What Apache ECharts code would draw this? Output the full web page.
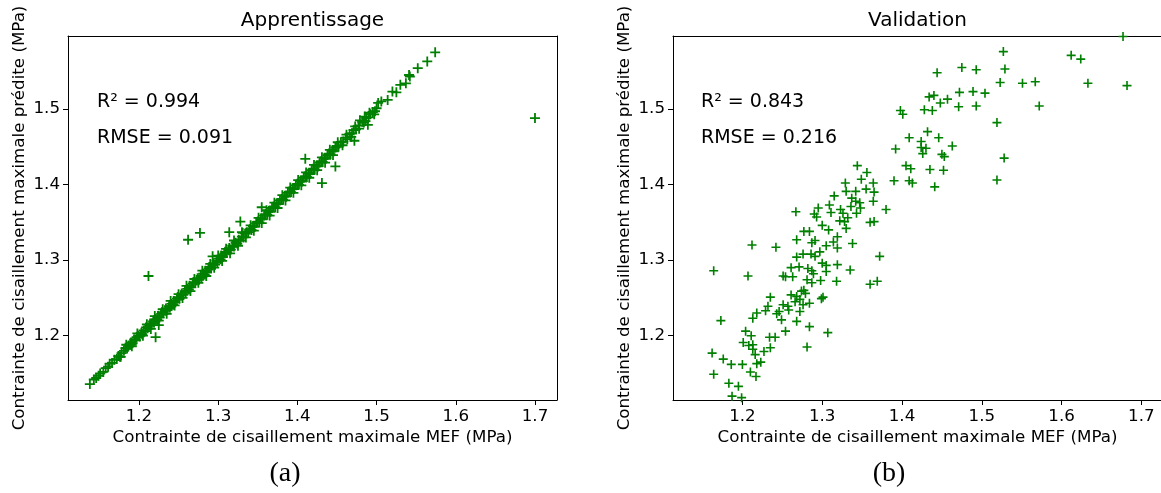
<!DOCTYPE html>
<html>
<head>
<meta charset="utf-8">
<script src="https://cdn.jsdelivr.net/npm/echarts@6.0.0/dist/echarts.min.js"></script>
<style>
  html, body { margin: 0; padding: 0; background: #fff; }
  #chart { width: 1161px; height: 493px; }
</style>
</head>
<body>
<div id="chart"></div>
<script>
// ---------------- DATA ----------------
const xTicks = [1.2, 1.3, 1.4, 1.5, 1.6, 1.7];
const yTicks = [1.2, 1.3, 1.4, 1.5];

const titles = ['Apprentissage', 'Validation'];
const captions = ['(a)', '(b)'];
const xAxisName = 'Contrainte de cisaillement maximale MEF (MPa)';
const yAxisName = 'Contrainte de cisaillement maximale prédite (MPa)';
const trainStats = ['R² = 0.994', 'RMSE = 0.091'];
const valStats = ['R² = 0.843', 'RMSE = 0.216'];

// Apprentissage: [MEF, predicted]
const trainPoints = [
  [1.138,1.136],[1.143,1.142],[1.146,1.144],[1.149,1.147],[1.151,1.150],[1.155,1.152],[1.158,1.157],[1.161,1.159],
  [1.163,1.163],[1.166,1.164],[1.169,1.168],[1.172,1.169],[1.174,1.173],[1.176,1.172],[1.178,1.177],[1.181,1.180],
  [1.183,1.184],[1.185,1.183],[1.187,1.187],[1.189,1.188],[1.190,1.191],[1.192,1.190],[1.194,1.195],[1.196,1.194],
  [1.197,1.198],[1.199,1.200],[1.201,1.199],[1.203,1.204],[1.204,1.202],[1.206,1.207],[1.208,1.206],[1.209,1.211],
  [1.211,1.210],[1.213,1.213],[1.214,1.216],[1.216,1.214],[1.218,1.219],[1.219,1.217],[1.221,1.222],[1.223,1.221],
  [1.224,1.226],[1.226,1.224],[1.228,1.229],[1.229,1.231],[1.231,1.230],[1.233,1.233],[1.234,1.236],[1.236,1.234],
  [1.238,1.239],[1.239,1.237],[1.241,1.242],[1.243,1.241],[1.244,1.246],[1.246,1.244],[1.248,1.249],[1.249,1.251],
  [1.251,1.249],[1.253,1.253],[1.254,1.256],[1.256,1.254],[1.258,1.259],[1.259,1.257],[1.261,1.262],[1.263,1.261],
  [1.264,1.266],[1.266,1.264],[1.268,1.269],[1.269,1.271],[1.271,1.270],[1.273,1.273],[1.274,1.276],[1.276,1.274],
  [1.278,1.279],[1.279,1.277],[1.281,1.282],[1.283,1.281],[1.284,1.286],[1.286,1.284],[1.288,1.289],[1.289,1.291],
  [1.291,1.289],[1.293,1.293],[1.294,1.296],[1.296,1.294],[1.298,1.299],[1.299,1.297],[1.301,1.302],[1.303,1.301],
  [1.304,1.306],[1.306,1.304],[1.308,1.309],[1.309,1.311],[1.311,1.310],[1.313,1.313],[1.314,1.316],[1.316,1.314],
  [1.318,1.319],[1.320,1.318],[1.322,1.323],[1.324,1.322],[1.326,1.327],[1.328,1.326],[1.330,1.331],[1.332,1.330],
  [1.334,1.335],[1.336,1.337],[1.338,1.337],[1.340,1.341],[1.342,1.340],[1.344,1.345],[1.346,1.344],[1.348,1.349],
  [1.350,1.351],[1.352,1.350],[1.354,1.355],[1.356,1.354],[1.358,1.359],[1.360,1.361],[1.362,1.360],[1.364,1.365],
  [1.366,1.364],[1.368,1.369],[1.370,1.371],[1.372,1.370],[1.374,1.375],[1.376,1.374],[1.378,1.379],[1.380,1.381],
  [1.382,1.380],[1.384,1.385],[1.386,1.384],[1.388,1.389],[1.390,1.391],[1.392,1.390],[1.394,1.395],[1.396,1.394],
  [1.398,1.399],[1.400,1.401],[1.402,1.400],[1.404,1.405],[1.406,1.404],[1.408,1.409],[1.410,1.411],[1.412,1.410],
  [1.414,1.415],[1.416,1.414],[1.418,1.419],[1.420,1.421],[1.422,1.420],[1.424,1.425],[1.426,1.424],[1.428,1.429],
  [1.430,1.431],[1.432,1.430],[1.434,1.435],[1.436,1.434],[1.438,1.439],[1.440,1.441],[1.442,1.440],[1.444,1.445],
  [1.446,1.444],[1.448,1.449],[1.450,1.451],[1.452,1.450],[1.455,1.456],[1.458,1.457],[1.461,1.462],[1.463,1.460],
  [1.466,1.467],[1.469,1.468],[1.471,1.472],[1.474,1.473],[1.477,1.478],[1.479,1.485],[1.485,1.490],[1.482,1.483],
  [1.484,1.482],[1.487,1.488],[1.490,1.489],[1.492,1.493],[1.495,1.496],[1.498,1.497],[1.500,1.501],[1.502,1.508],
  [1.506,1.510],[1.514,1.512],[1.520,1.523],[1.525,1.522],[1.530,1.532],[1.537,1.534],[1.541,1.545],[1.542,1.543],
  [1.552,1.554],[1.564,1.563],[1.574,1.575],
  // band spread (points slightly off the diagonal)
  [1.177,1.172],[1.184,1.188],[1.191,1.186],[1.198,1.203],[1.205,1.200],[1.210,1.215],[1.215,1.209],[1.220,1.226],
  [1.225,1.220],[1.230,1.235],[1.235,1.229],[1.240,1.246],[1.245,1.240],[1.250,1.255],[1.255,1.250],[1.260,1.266],
  [1.265,1.259],[1.270,1.275],[1.275,1.270],[1.280,1.286],[1.285,1.279],[1.290,1.295],[1.295,1.290],[1.300,1.306],
  [1.305,1.299],[1.310,1.315],[1.315,1.309],[1.320,1.326],[1.325,1.319],[1.331,1.336],[1.335,1.330],[1.341,1.346],
  [1.345,1.339],[1.351,1.356],[1.355,1.349],[1.361,1.366],[1.365,1.359],[1.371,1.376],[1.375,1.369],[1.381,1.386],
  [1.385,1.379],[1.391,1.396],[1.395,1.389],[1.401,1.406],[1.405,1.399],[1.411,1.416],[1.415,1.409],[1.421,1.426],
  [1.425,1.419],[1.431,1.436],[1.435,1.429],[1.441,1.446],[1.445,1.439],[1.451,1.456],[1.457,1.452],[1.462,1.466],
  [1.468,1.463],[1.473,1.477],[1.478,1.474],[1.486,1.484],[1.491,1.495],[1.497,1.493],
  // outliers
  [1.700,1.488],[1.212,1.279],[1.262,1.327],[1.277,1.336],[1.314,1.337],[1.328,1.351],[1.330,1.337],
  [1.221,1.198],[1.225,1.214],[1.293,1.305],[1.410,1.434],[1.431,1.402],[1.448,1.424],[1.472,1.458],
  [1.489,1.479],[1.355,1.370]
];

// Validation: [MEF, predicted]
const valPoints = [
  [1.646,1.601],[1.677,1.596],[1.527,1.576],[1.612,1.571],[1.624,1.566],[1.475,1.555],[1.493,1.552],[1.444,1.548],
  [1.529,1.553],[1.523,1.535],[1.551,1.534],[1.567,1.536],[1.633,1.534],[1.682,1.531],[1.472,1.522],[1.489,1.523],
  [1.504,1.521],[1.440,1.518],[1.434,1.516],[1.457,1.513],[1.448,1.508],[1.428,1.499],[1.438,1.498],[1.471,1.503],
  [1.493,1.504],[1.572,1.504],[1.398,1.498],[1.401,1.493],[1.519,1.482],[1.432,1.470],[1.409,1.462],[1.446,1.462],
  [1.392,1.447],[1.424,1.457],[1.424,1.449],[1.430,1.448],[1.426,1.441],[1.463,1.451],[1.450,1.440],[1.453,1.437],
  [1.528,1.435],[1.405,1.425],[1.411,1.421],[1.435,1.420],[1.452,1.419],[1.409,1.405],[1.413,1.402],[1.441,1.397],
  [1.519,1.406],[1.212,1.320],[1.242,1.317],[1.335,1.287],[1.360,1.268],[1.369,1.272],[1.164,1.286],[1.173,1.220],
  [1.344,1.425],[1.356,1.416],[1.329,1.402],[1.349,1.407],[1.364,1.402],[1.390,1.405],[1.315,1.385],[1.330,1.391],
  [1.342,1.391],[1.355,1.394],[1.365,1.390],[1.337,1.382],[1.342,1.378],[1.347,1.376],[1.364,1.378],[1.309,1.373],
  [1.295,1.369],[1.323,1.367],[1.336,1.371],[1.348,1.369],[1.380,1.367],[1.267,1.364],[1.290,1.361],[1.311,1.363],
  [1.326,1.362],[1.343,1.362],[1.293,1.357],[1.332,1.356],[1.322,1.352],[1.328,1.351],[1.360,1.350],[1.365,1.351],
  [1.300,1.346],[1.308,1.340],[1.330,1.342],[1.277,1.338],[1.284,1.338],[1.319,1.331],[1.268,1.327],[1.291,1.326],
  [1.287,1.323],[1.314,1.324],[1.338,1.322],[1.305,1.319],[1.319,1.316],[1.372,1.305],
  [1.268,1.304],[1.276,1.308],[1.286,1.308],[1.291,1.305],[1.297,1.311],[1.300,1.296],[1.305,1.293],[1.319,1.294],
  [1.305,1.285],[1.261,1.290],[1.271,1.291],[1.282,1.289],[1.287,1.286],[1.289,1.282],[1.287,1.270],[1.298,1.273],
  [1.318,1.272],[1.281,1.274],[1.251,1.279],[1.254,1.278],[1.263,1.278],[1.207,1.279],[1.235,1.251],[1.261,1.254],
  [1.268,1.252],[1.274,1.259],[1.277,1.260],[1.279,1.256],[1.272,1.248],[1.266,1.245],[1.301,1.251],[1.299,1.249],
  [1.284,1.243],[1.251,1.241],[1.257,1.239],[1.276,1.241],[1.232,1.239],[1.229,1.233],[1.246,1.232],[1.258,1.234],
  [1.272,1.232],[1.218,1.230],[1.213,1.223],[1.243,1.229],[1.249,1.221],[1.268,1.219],[1.284,1.212],[1.307,1.204],
  [1.281,1.185],
  [1.204,1.206],[1.211,1.200],[1.201,1.191],[1.208,1.187],[1.213,1.188],[1.213,1.182],[1.216,1.175],[1.234,1.198],
  [1.241,1.198],[1.254,1.206],[1.235,1.184],[1.227,1.179],[1.162,1.177],[1.176,1.169],[1.186,1.162],[1.200,1.162],
  [1.218,1.163],[1.223,1.165],[1.210,1.152],[1.217,1.146],[1.164,1.149],[1.183,1.137],[1.195,1.133],[1.187,1.120],
  [1.199,1.118]
];

// ---------------- CHART ----------------
const FONT = 'DejaVu Sans';
const GREEN = '#008000';
const plusPath = 'path://M8.2,0H11.8V8.2H20V11.8H11.8V20H8.2V11.8H0V8.2H8.2Z';

const grids = [
  { left: 68, top: 36, width: 489, height: 364 },
  { left: 673, top: 36, width: 492, height: 364 }
];
const xRanges = [[1.1104, 1.7278], [1.113, 1.7296]];
const yRange = [1.1149, 1.5966];

function fmt(v) { return Number(v).toFixed(1); }
const spine = { show: true, onZero: false, lineStyle: { color: '#000', width: 1 } };

const xAxes = grids.map((g, i) => ({
  gridIndex: i, type: 'value', position: 'bottom', min: xRanges[i][0], max: xRanges[i][1],
  axisLine: spine, splitLine: { show: false },
  axisTick: { show: true, length: 5, customValues: xTicks, lineStyle: { color: '#000', width: 1 } },
  axisLabel: { customValues: xTicks, formatter: fmt, fontFamily: FONT, fontSize: 16.7, color: '#000', margin: 8 }
}));
// top spines
grids.forEach((g, i) => xAxes.push({
  gridIndex: i, type: 'value', position: 'top', min: xRanges[i][0], max: xRanges[i][1],
  axisLine: spine, splitLine: { show: false }, axisTick: { show: false }, axisLabel: { show: false }
}));
const yAxes = grids.map((g, i) => ({
  gridIndex: i, type: 'value', position: 'left', min: yRange[0], max: yRange[1],
  axisLine: spine, splitLine: { show: false },
  axisTick: { show: true, length: 5, customValues: yTicks, lineStyle: { color: '#000', width: 1 } },
  axisLabel: { customValues: yTicks, formatter: fmt, fontFamily: FONT, fontSize: 16.7, color: '#000', margin: 8 }
}));
// right spine of the first panel only (the second panel's right spine lies outside the picture)
yAxes.push({
  gridIndex: 0, type: 'value', position: 'right', min: yRange[0], max: yRange[1],
  axisLine: spine, splitLine: { show: false }, axisTick: { show: false }, axisLabel: { show: false }
});

function txt(text, x, y, size, opts) {
  opts = opts || {};
  return {
    type: 'text', x: x, y: y, rotation: opts.rotation || 0, silent: true,
    style: {
      text: text, fill: '#000',
      font: (opts.font || (size + 'px "' + FONT + '"')),
      textAlign: opts.align || 'center', textVerticalAlign: 'middle'
    }
  };
}

const graphics = [];
grids.forEach((g, i) => {
  const cx = g.left + 489 / 2;
  graphics.push(txt(titles[i], cx, 21, 20));
  graphics.push(txt(xAxisName, cx, 438, 16.7));
  graphics.push(txt(yAxisName, g.left - 48, g.top + g.height / 2, 16.7, { rotation: Math.PI / 2 }));
});
graphics.push(txt(trainStats[0], 97, 102, 19, { align: 'left' }));
graphics.push(txt(trainStats[1], 97, 138, 19, { align: 'left' }));
graphics.push(txt(valStats[0], 701, 102, 19, { align: 'left' }));
graphics.push(txt(valStats[1], 701, 138, 19, { align: 'left' }));
graphics.push(txt(captions[0], 285, 474, 28, { font: '28px "Liberation Serif"' }));
graphics.push(txt(captions[1], 889, 474, 28, { font: '28px "Liberation Serif"' }));

const chart = echarts.init(document.getElementById('chart'), null, { renderer: 'canvas' });
chart.setOption({
  animation: false,
  backgroundColor: '#fff',
  grid: grids.map(g => Object.assign({ show: false, outerBoundsMode: 'none', containLabel: false }, g)),
  xAxis: xAxes,
  yAxis: yAxes,
  graphic: { elements: graphics },
  series: [
    { type: 'scatter', xAxisIndex: 0, yAxisIndex: 0, data: trainPoints, symbol: plusPath, symbolSize: 10,
      itemStyle: { color: GREEN, opacity: 1 }, silent: true, clip: true },
    { type: 'scatter', xAxisIndex: 1, yAxisIndex: 1, data: valPoints, symbol: plusPath, symbolSize: 9,
      itemStyle: { color: GREEN, opacity: 1 }, silent: true, clip: true }
  ]
});
</script>
</body>
</html>
